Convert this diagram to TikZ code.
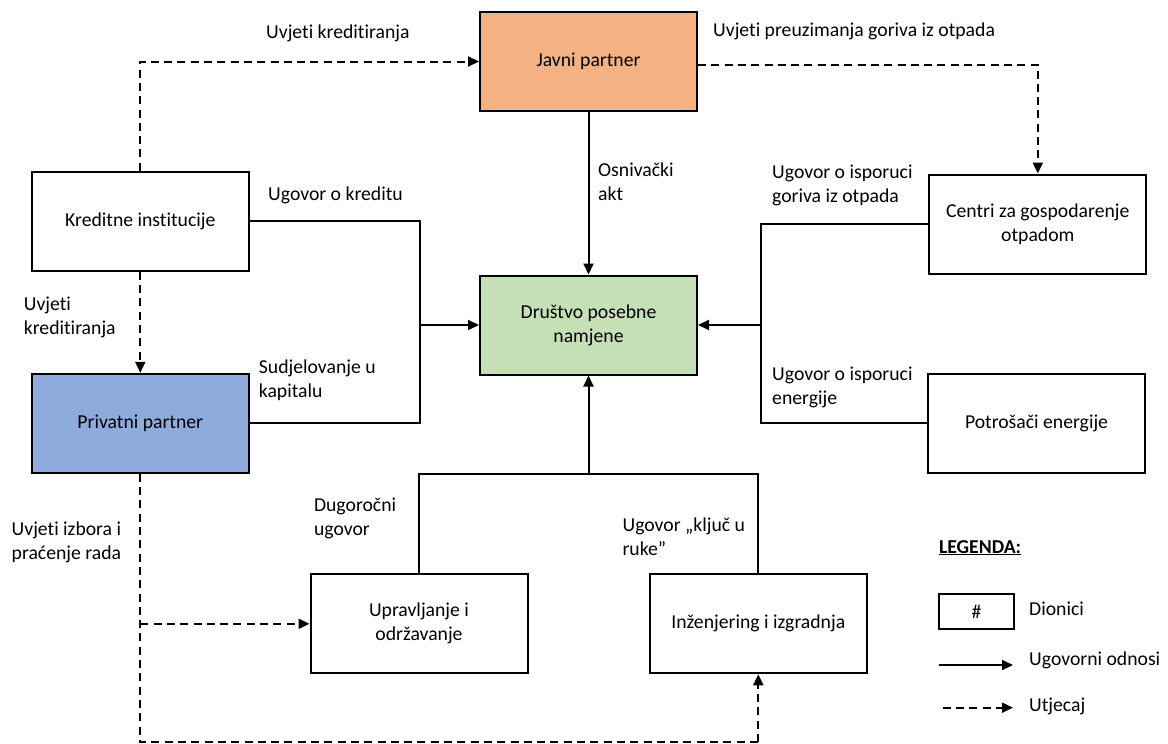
\documentclass[tikz,border=0pt]{standalone}
\usepackage{fontspec}
\setmainfont{Carlito}[Ligatures=CommonOff]
\usetikzlibrary{arrows.meta}
\definecolor{orangeF}{HTML}{F4B183}
\definecolor{greenF}{HTML}{C5E0B4}
\definecolor{blueF}{HTML}{8FAADC}
\tikzset{
  stakeholder/.style={draw, line width=2pt, minimum width=217pt, minimum height=99pt, align=center, inner sep=0pt, font=\fontsize{19.7}{24}\selectfont},
  lbl/.style={anchor=west, align=left, inner sep=0pt, font=\fontsize{19.7}{24}\selectfont},
  contract/.style={line width=2pt},
  contractarrow/.style={line width=2pt, -{Triangle[length=11pt,width=10pt]}},
  influence/.style={line width=2pt, dash pattern=on 8pt off 5.3pt},
  influencearrow/.style={line width=2pt, dash pattern=on 8pt off 5.3pt, -{Triangle[length=11pt,width=10pt]}}
}
\begin{document}
\begin{tikzpicture}[x=1pt,y=-1pt]
\useasboundingbox (0,0) rectangle (1168,744);
% stakeholders
\node[stakeholder, fill=orangeF] (javni) at (588.5,61.5) {Javni partner};
\node[stakeholder] (kred) at (140.3,221.2) {Kreditne institucije};
\node[stakeholder] (centri) at (1037.8,224) {Centri za gospodarenje\\otpadom};
\node[stakeholder, fill=greenF] (dpn) at (588.5,325) {Društvo posebne\\namjene};
\node[stakeholder, fill=blueF] (priv) at (140.3,423.3) {Privatni partner};
\node[stakeholder] (potr) at (1036.5,423.3) {Potrošači energije};
\node[stakeholder] (upr) at (419,623.8) {Upravljanje i\\održavanje};
\node[stakeholder] (inz) at (758.3,623.8) {Inženjering i izgradnja};
% junctions
\coordinate (jL) at (419.5,325);
\coordinate (jR) at (760.5,325);
\coordinate (jB) at (588.5,474.3);
\coordinate (pb) at (140.3,742);
% contracts
\draw[contractarrow] (javni) -- (dpn);
\draw[contract] (kred.east) -| (jL);
\draw[contract] (priv.east) -| (jL);
\draw[contractarrow] (jL) -- (dpn.west);
\draw[contract] (centri.west) -| (jR);
\draw[contract] (potr.west) -| (jR);
\draw[contractarrow] (jR) -- (dpn.east);
\draw[contract] (upr.north) |- (jB);
\draw[contract] (inz.north) |- (jB);
\draw[contractarrow] (jB) -- (dpn.south);
% influences
\draw[influencearrow] (kred.north) |- (javni.west);
\draw[influencearrow] ([yshift=-3pt]javni.east) -| (centri.north);
\draw[influencearrow] (kred.south) -- (priv.north);
\draw[influence] (priv.south) -- (pb) -- (inz.south |- pb);
\draw[influencearrow] (inz.south |- pb) -- (inz.south);
\draw[influencearrow] (priv.south |- upr.west) -- (upr.west);
% labels
\node[lbl] (l1) at (266,33) {Uvjeti kreditiranja};
\node[lbl] (l2) at (713,31) {Uvjeti preuzimanja goriva iz otpada};
\node[lbl] (l3) at (268,195) {Ugovor o kreditu};
\node[lbl] (l4) at (598,182) {Osnivački\\akt};
\node[lbl] (l5) at (772,185) {Ugovor o isporuci\\goriva iz otpada};
\node[lbl] (l6) at (23.7,317.5) {Uvjeti\\kreditiranja};
\node[lbl] (l7) at (258.7,380) {Sudjelovanje u\\kapitalu};
\node[lbl] (l8) at (772,387) {Ugovor o isporuci\\energije};
\node[lbl] (l9) at (313.8,518.7) {Dugoročni\\ugovor};
\node[lbl] (l10) at (622.4,536.5) {Ugovor „ključ u\\ruke”};
\node[lbl] (l11) at (11.5,542) {Uvjeti izbora i\\praćenje rada};
% legend
\node[lbl] (leg) at (938.8,547.7) {\underline{\textbf{LEGENDA:}}};
\node[draw, line width=2pt, minimum width=75pt, minimum height=35pt, inner sep=0pt, font=\fontsize{19.7}{24}\selectfont] (legbox) at (976.4,611.5) {\#};
\node[lbl] (legt1) at (1029,609) {Dionici};
\coordinate (ls1) at (938.8,665);
\coordinate (le1) at (1013,665);
\draw[contractarrow] (ls1) -- (le1);
\node[lbl] (legt2) at (1029,660) {Ugovorni odnosi};
\coordinate (ls2) at (942.6,707.7);
\coordinate (le2) at (1013,707.7);
\draw[influencearrow] (ls2) -- (le2);
\node[lbl] (legt3) at (1029,706) {Utjecaj};
\end{tikzpicture}
\end{document}
